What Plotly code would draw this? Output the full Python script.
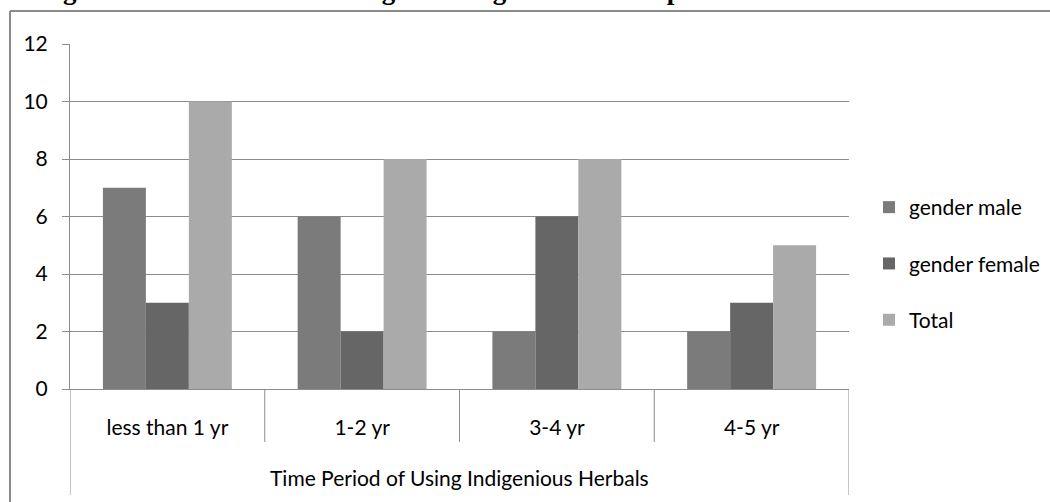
import plotly.graph_objects as go

categories = ["less than 1 yr", "1-2 yr", "3-4 yr", "4-5 yr"]
male = [7, 6, 2, 2]
female = [3, 2, 6, 3]
total = [10, 8, 8, 5]
series_names = ["gender male", "gender female", "Total"]
colors = ["#7b7b7b", "#666666", "#aaaaaa"]
y_ticks = [0, 2, 4, 6, 8, 10, 12]
x_title = "Time Period of Using Indigenious Herbals"
page_title = "Figure 3: Time Period of Using the Indigenous Herbal products"

FONT = "Lato, Open Sans, sans-serif"
FS = 21
W, H = 1050, 502
L, R, T, B = 70, 201, 44, 113
plot_h = H - T - B
plot_w = W - L - R


def py(pix):
    """pixel y (from top) -> paper y"""
    return (H - B - pix) / plot_h


def px(pix):
    return (pix - L) / plot_w


fig = go.Figure()
for i, (name, vals) in enumerate(zip(series_names, [male, female, total])):
    fig.add_trace(go.Bar(
        x=categories, y=vals, name=name,
        marker=dict(color=colors[i], line=dict(width=0)),
        legendgroup=name,
    ))

grey = "#8c8c8c"
shapes = []
for k in range(1, len(categories)):
    shapes.append(dict(type="line", xref="x", yref="paper", x0=k - 0.5, x1=k - 0.5,
                       y0=0, y1=py(442), line=dict(color=grey, width=1)))
for xv in [-0.5, len(categories) - 0.5]:
    shapes.append(dict(type="line", xref="x", yref="paper", x0=xv, x1=xv,
                       y0=0, y1=py(495), line=dict(color=grey, width=1)))
shapes.append(dict(type="line", xref="paper", yref="paper",
                   x0=px(10), x1=px(1060), y0=py(11), y1=py(11),
                   line=dict(color="#8a8a8a", width=2)))
shapes.append(dict(type="line", xref="paper", yref="paper",
                   x0=px(10), x1=px(10), y0=py(11), y1=py(510),
                   line=dict(color="#8a8a8a", width=2)))

annotations = [
    dict(text=x_title, xref="paper", yref="paper", x=0.5, y=py(477),
         showarrow=False, xanchor="center", yanchor="middle",
         font=dict(family=FONT, size=FS, color="#000")),
    dict(text="<b>" + page_title + "</b>", xref="paper", yref="paper",
         x=px(37), y=py(-10.5), showarrow=False,
         xanchor="left", yanchor="middle",
         font=dict(family="Liberation Serif, serif", size=27, color="#000")),
]

fig.update_layout(
    width=W, height=H,
    margin=dict(l=L, r=R, t=T, b=B, autoexpand=False),
    paper_bgcolor="white", plot_bgcolor="white",
    barmode="group", bargap=0.338, bargroupgap=0,
    font=dict(family=FONT, size=FS, color="#000"),
    shapes=shapes, annotations=annotations,
    legend=dict(x=px(869), y=py(187), xanchor="left", yanchor="top",
                tracegroupgap=26, itemwidth=30,
                font=dict(family=FONT, size=FS, color="#000"),
                bgcolor="rgba(0,0,0,0)"),
    xaxis=dict(showgrid=False, showline=True, linecolor=grey, linewidth=1,
               ticks="", ticklabelstandoff=20, tickfont=dict(size=FS),
               range=[-0.5, len(categories) - 0.5]),
    yaxis=dict(range=[0, 12], tickvals=y_ticks, showgrid=True, gridcolor=grey,
               gridwidth=1, showline=True, linecolor=grey, linewidth=1,
               ticks="outside", ticklen=7, tickcolor=grey, ticklabelstandoff=10,
               tickfont=dict(size=FS), zeroline=False),
)

fig.write_html("out.html", config={"displayModeBar": False},
               post_script="document.body.style.margin='0';document.body.style.overflow='hidden';")
